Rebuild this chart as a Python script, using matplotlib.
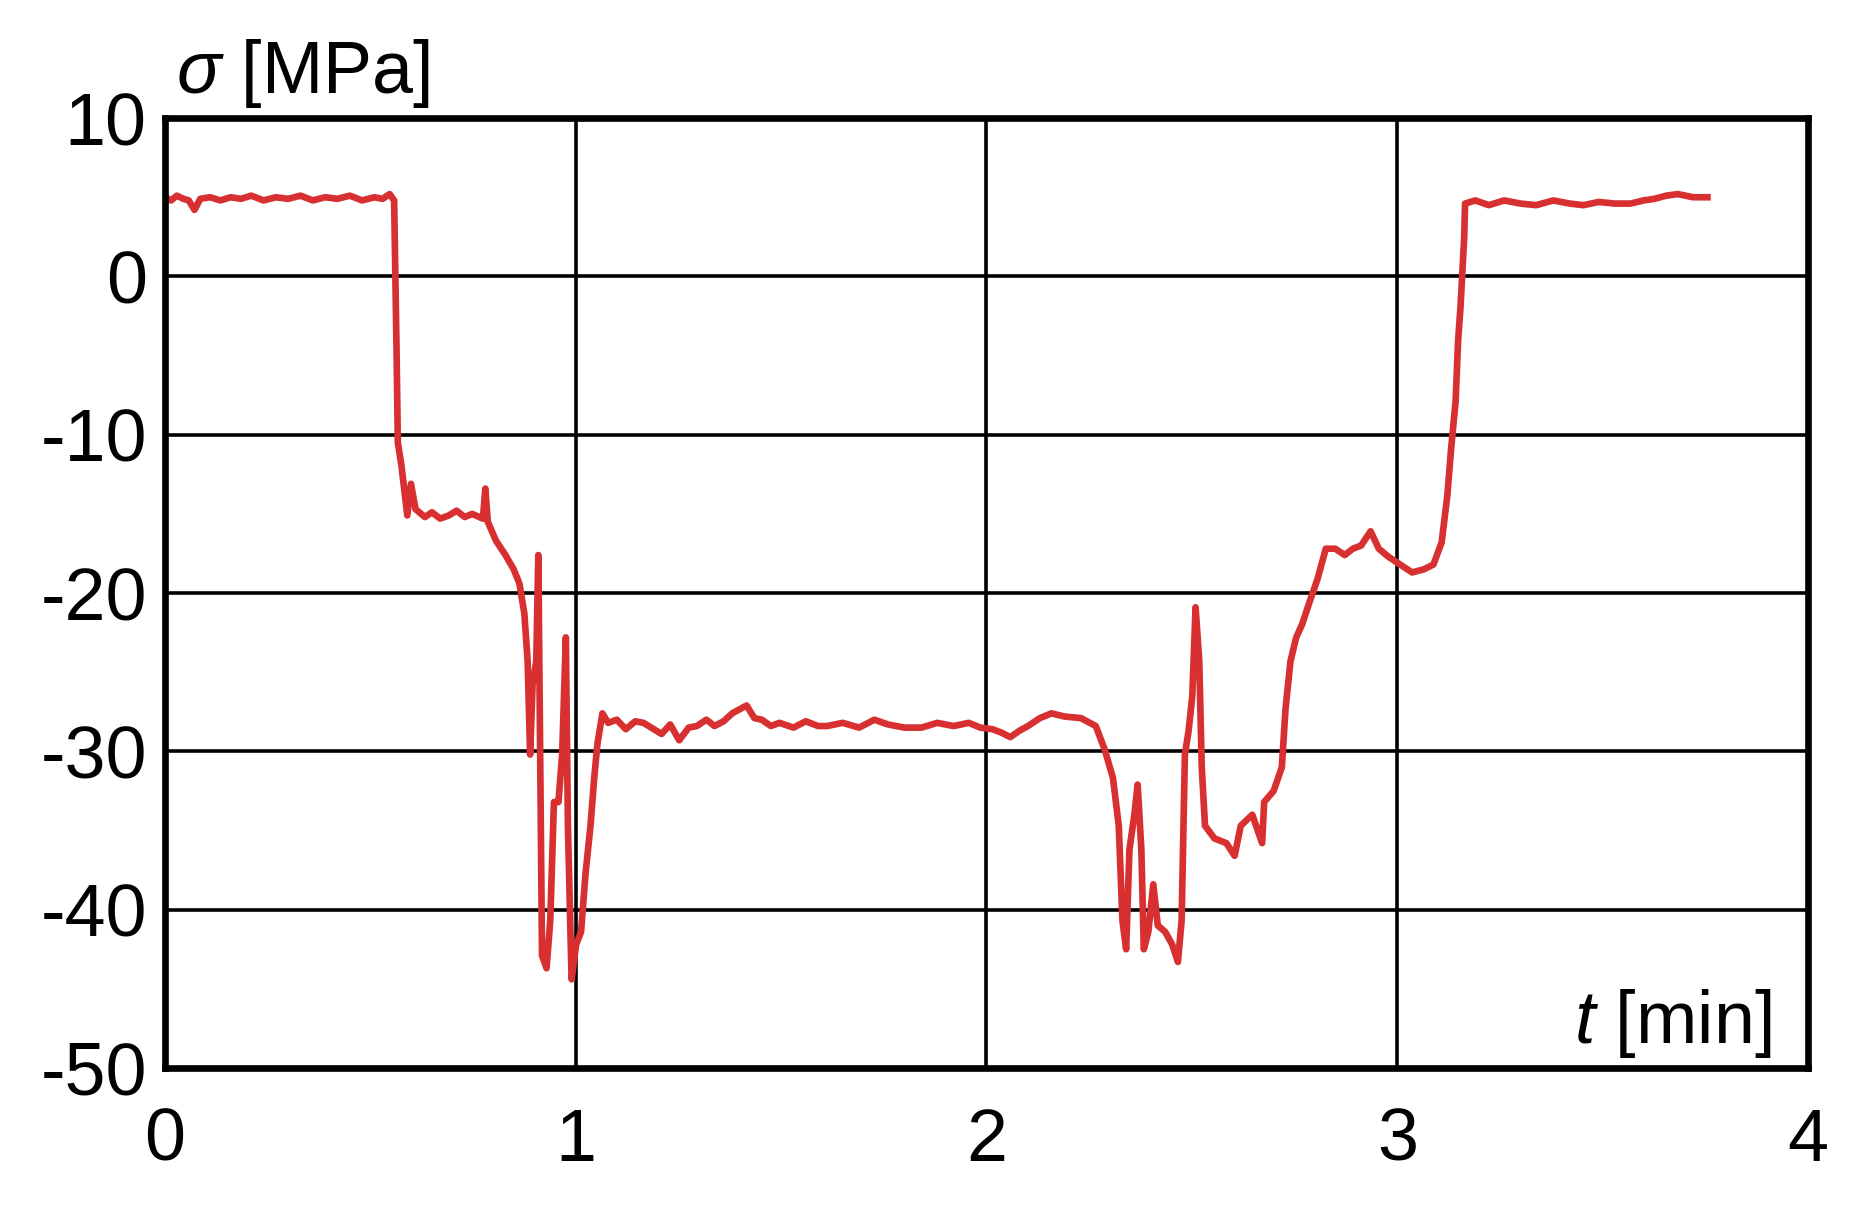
import numpy as np
import matplotlib
matplotlib.use("Agg")
import matplotlib.pyplot as plt

# Stress trace
t_min = [0.000, 0.015, 0.029, 0.045, 0.058, 0.072, 0.086, 0.110, 0.135, 0.160, 0.185,
         0.210, 0.240, 0.270, 0.300, 0.330, 0.360, 0.390, 0.420, 0.450, 0.480, 0.510,
         0.530, 0.547, 0.558, 0.564, 0.567, 0.576, 0.584, 0.590, 0.599, 0.610, 0.633,
         0.650, 0.670, 0.691, 0.710, 0.730, 0.748, 0.774, 0.780, 0.786, 0.806, 0.829,
         0.849, 0.863, 0.875, 0.883, 0.889, 0.895, 0.904, 0.909, 0.915, 0.918, 0.929,
         0.938, 0.947, 0.958, 0.967, 0.976, 0.981, 0.990, 1.001, 1.013, 1.024, 1.036,
         1.045, 1.053, 1.065, 1.079, 1.100, 1.122, 1.145, 1.165, 1.190, 1.209, 1.230,
         1.252, 1.275, 1.295, 1.318, 1.338, 1.360, 1.381, 1.416, 1.435, 1.453, 1.475,
         1.496, 1.530, 1.560, 1.590, 1.612, 1.650, 1.690, 1.727, 1.760, 1.800, 1.842,
         1.880, 1.920, 1.957, 1.985, 2.014, 2.035, 2.058, 2.080, 2.101, 2.130, 2.158,
         2.190, 2.230, 2.266, 2.288, 2.308, 2.322, 2.331, 2.340, 2.348, 2.360, 2.368,
         2.377, 2.383, 2.394, 2.406, 2.417, 2.435, 2.452, 2.466, 2.475, 2.483, 2.492,
         2.501, 2.509, 2.518, 2.524, 2.532, 2.555, 2.584, 2.604, 2.619, 2.647, 2.671,
         2.676, 2.699, 2.719, 2.728, 2.740, 2.754, 2.768, 2.786, 2.806, 2.826, 2.849,
         2.872, 2.892, 2.912, 2.935, 2.955, 2.978, 3.007, 3.036, 3.065, 3.088, 3.108,
         3.122, 3.131, 3.142, 3.148, 3.154, 3.163, 3.165, 3.190, 3.223, 3.260, 3.300,
         3.338, 3.380, 3.420, 3.453, 3.490, 3.530, 3.568, 3.600, 3.626, 3.655, 3.683,
         3.720, 3.755]
sigma = [5.0, 4.8, 5.1, 4.9, 4.8, 4.2, 4.9, 5.0, 4.8, 5.0, 4.9,
         5.1, 4.8, 5.0, 4.9, 5.1, 4.8, 5.0, 4.9, 5.1, 4.8, 5.0,
         4.9, 5.2, 4.8, -4.9, -10.5, -12.0, -13.8, -15.1, -13.1, -14.7, -15.2,
         -14.9, -15.3, -15.1, -14.8, -15.2, -15.0, -15.3, -13.4, -15.5, -16.7, -17.6,
         -18.5, -19.4, -21.3, -24.3, -30.2, -25.8, -24.3, -17.6, -34.7, -42.9, -43.7,
         -40.7, -33.2, -33.2, -30.2, -22.8, -34.7, -44.4, -42.2, -41.4, -37.7, -34.7,
         -31.7, -29.5, -27.6, -28.2, -28.0, -28.6, -28.1, -28.2, -28.6, -28.9, -28.3,
         -29.3, -28.5, -28.4, -28.0, -28.4, -28.1, -27.6, -27.1, -27.9, -28.0, -28.4,
         -28.2, -28.5, -28.1, -28.4, -28.4, -28.2, -28.5, -28.0, -28.3, -28.5, -28.5,
         -28.2, -28.4, -28.2, -28.5, -28.6, -28.8, -29.1, -28.7, -28.4, -27.9, -27.6,
         -27.8, -27.9, -28.4, -29.9, -31.7, -34.7, -40.7, -42.5, -36.2, -34.0, -32.1,
         -36.2, -42.5, -41.4, -38.4, -41.0, -41.4, -42.2, -43.3, -40.7, -30.2, -28.7,
         -26.5, -20.9, -24.3, -31.0, -34.7, -35.5, -35.8, -36.6, -34.7, -34.0, -35.8,
         -33.2, -32.5, -31.0, -27.3, -24.3, -22.8, -22.0, -20.6, -19.1, -17.2, -17.2,
         -17.6, -17.2, -17.0, -16.1, -17.2, -17.7, -18.2, -18.7, -18.5, -18.2, -16.8,
         -13.8, -10.9, -7.9, -4.1, -1.9, 2.5, 4.6, 4.8, 4.5, 4.8, 4.6,
         4.5, 4.8, 4.6, 4.5, 4.7, 4.6, 4.6, 4.8, 4.9, 5.1, 5.2,
         5.0, 5.0]

x_ticks = [0, 1, 2, 3, 4]
y_ticks = [10, 0, -10, -20, -30, -40, -50]

plt.rcParams['font.family'] = ['Liberation Sans', 'DejaVu Sans']
plt.rcParams['mathtext.fontset'] = 'custom'
plt.rcParams['mathtext.it'] = 'Liberation Sans:italic'
plt.rcParams['mathtext.rm'] = 'Liberation Sans'

fig = plt.figure(figsize=(18.51, 12.05), dpi=100)
ax = fig.add_axes([0.0891, 0.1137, 0.8877, 0.7883])

ax.plot(t_min, sigma, color='#d83030', lw=4.8)

ax.set_xlim(0, 4)
ax.set_ylim(-50, 10)
ax.set_xticks(x_ticks)
ax.set_yticks(y_ticks)
ax.set_xticklabels([str(v) for v in x_ticks])
ax.set_yticklabels([str(v) for v in y_ticks])
ax.grid(True, color='black', lw=2.6)
ax.set_axisbelow(True)
ax.tick_params(length=0, labelsize=53)
ax.tick_params(axis='x', pad=28)
ax.tick_params(axis='y', pad=13)
for s in ax.spines.values():
    s.set_linewidth(4.8)
    s.set_color('black')

ax.text(3.91, -48.4, r'$t$ [min]', fontsize=53, ha='right', va='baseline')
fig.text(0.095, 0.923, r'$\sigma$ [MPa]', fontsize=53, ha='left', va='baseline')

fig.savefig('out.png', dpi=100)
